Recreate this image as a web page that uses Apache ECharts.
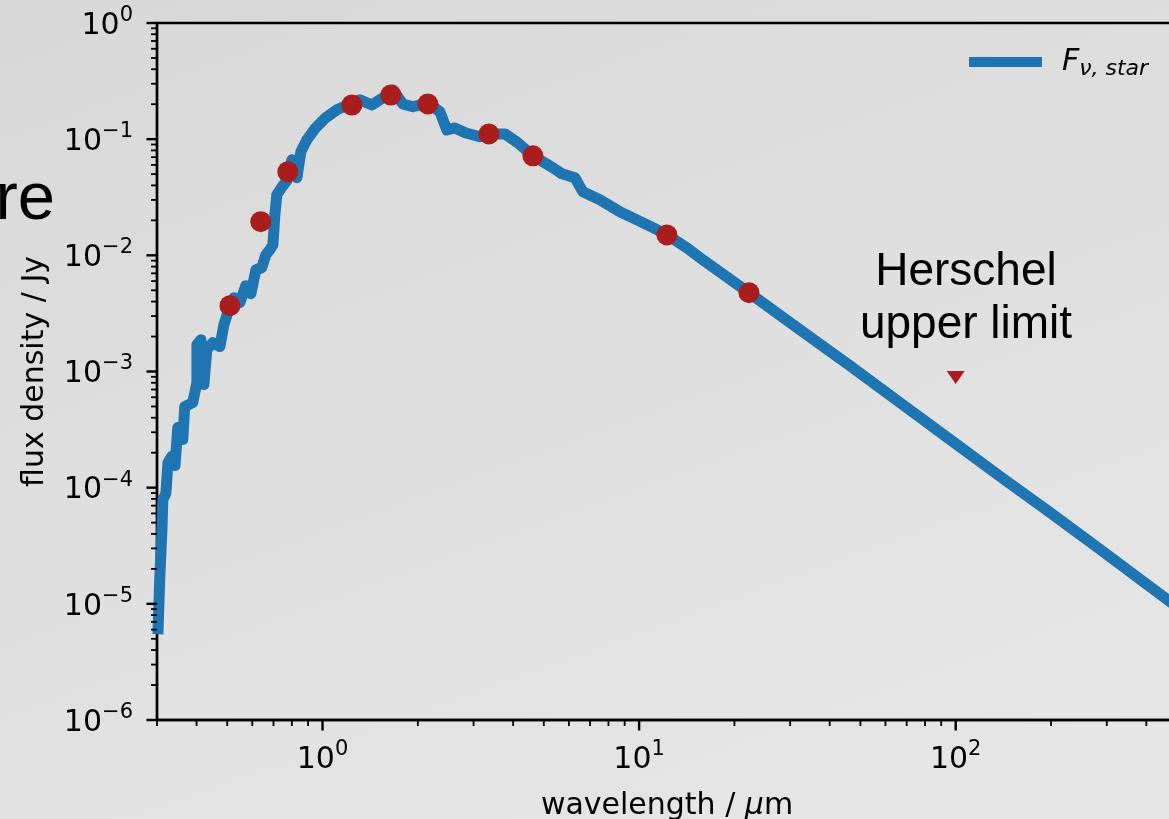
<!DOCTYPE html>
<html>
<head>
<meta charset="utf-8">
<title>SED</title>
<script src="https://cdn.jsdelivr.net/npm/echarts@6/dist/echarts.min.js"></script>
<style>
  html, body { margin: 0; padding: 0; }
  body { background: linear-gradient(160deg, #d8d8d8 0%, #e7e7e7 100%); }
  #chartbox { width: 1169px; height: 819px; }
</style>
</head>
<body>
<div id="chartbox"></div>
<script>
// model spectrum of the star: wavelength (micron) / flux density (Jy)
var modelWave = [0.302, 0.306, 0.311, 0.313, 0.320, 0.325, 0.334, 0.342, 0.349, 0.362,
  0.367, 0.389, 0.401, 0.401, 0.413, 0.422, 0.431, 0.450, 0.474, 0.488,
  0.510, 0.525, 0.548, 0.572, 0.594, 0.616, 0.643, 0.662, 0.682, 0.697,
  0.707, 0.717, 0.749, 0.771, 0.800, 0.830, 0.854, 0.892, 0.946, 1.024,
  1.110, 1.220, 1.312, 1.432, 1.551, 1.668, 1.794, 1.929, 2.151, 2.348,
  2.470, 2.618, 2.837, 3.141, 3.378, 3.767, 4.141, 4.618, 5.342, 5.704,
  6.270, 6.644, 7.517, 8.695, 9.842, 11.06, 12.24, 14.16, 15.56, 22.23,
  32.22, 46.35, 66.68, 95.94, 138.0, 198.6, 285.7, 500];
var modelFlux = [5.47e-6, 1.62e-5, 4.37e-5, 7.91e-5, 8.91e-5, 1.65e-4, 1.86e-4, 1.55e-4, 3.29e-4, 2.60e-4,
  4.99e-4, 5.40e-4, 8.03e-4, 1.70e-3, 1.88e-3, 7.72e-4, 1.54e-3, 1.77e-3, 1.64e-3, 2.53e-3,
  3.69e-3, 4.32e-3, 3.91e-3, 5.48e-3, 4.67e-3, 7.52e-3, 7.82e-3, 0.0101, 0.0112, 0.0123,
  0.0223, 0.0332, 0.0397, 0.0438, 0.0664, 0.0465, 0.0778, 0.0986, 0.123, 0.153,
  0.179, 0.201, 0.218, 0.197, 0.227, 0.265, 0.201, 0.190, 0.205, 0.172,
  0.120, 0.125, 0.113, 0.105, 0.111, 0.111, 0.0929, 0.0719, 0.0567, 0.0503,
  0.0465, 0.0352, 0.0301, 0.0237, 0.0202, 0.0173, 0.0150, 0.0116, 0.00954, 4.77e-3,
  2.29e-3, 1.12e-3, 5.40e-4, 2.60e-4, 1.25e-4, 6.12e-5, 2.94e-5, 9.43e-6];

// photometry points
var photWave = [0.510, 0.638, 0.777, 1.238, 1.644, 2.151, 3.354, 4.618, 12.24, 22.23];
var photFlux = [3.69e-3, 0.0195, 0.0524, 0.197, 0.240, 0.201, 0.111, 0.0719, 0.0150, 4.77e-3];

// Herschel upper limit
var limitWave = [100];
var limitFlux = [8.9e-4];

// axis range and ticks
var xMin = 0.3, xMax = 500;
var yMin = 1e-6, yMax = 1;
var xMajorTicks = [1, 10, 100];
var xMinorTicks = [0.3, 0.4, 0.5, 0.6, 0.7, 0.8, 0.9,
  2, 3, 4, 5, 6, 7, 8, 9,
  20, 30, 40, 50, 60, 70, 80, 90,
  200, 300, 400, 500];
var yMajorTicks = [1e-6, 1e-5, 1e-4, 1e-3, 1e-2, 1e-1, 1];
var yMinorSteps = [2, 3, 4, 5, 6, 7, 8, 9];

var yMinorTicks = [];
yMajorTicks.slice(0, -1).forEach(function (d) {
  yMinorSteps.forEach(function (m) { yMinorTicks.push(d * m); });
});

var font = '"DejaVu Sans", sans-serif';
var blue = '#1f75b2';
var red = '#a91d1d';

function pairs(xs, ys) {
  return xs.map(function (x, i) { return [x, ys[i]]; });
}

// 10^n labels like matplotlib
function powLabel(value) {
  var lg = Math.log10(value);
  var e = Math.round(lg);
  if (Math.abs(lg - e) > 1e-6) return '';
  return '{b|10}{s|' + (e < 0 ? '\u2212' : '') + Math.abs(e) + '}';
}

var labelRich = {
  b: { fontSize: 30, fontFamily: font, color: '#000', lineHeight: 36, verticalAlign: 'bottom' },
  s: { fontSize: 21, fontFamily: font, color: '#000', lineHeight: 21, verticalAlign: 'top' }
};

function xTick(params, api) {
  var p = api.coord([api.value(0), api.value(1)]);
  var major = api.value(2) === 1;
  var len = major ? 10.5 : 6;
  return {
    type: 'line',
    shape: { x1: p[0], y1: p[1], x2: p[0], y2: p[1] + len },
    style: { stroke: '#000', lineWidth: major ? 2.4 : 1.8 }
  };
}

function yTick(params, api) {
  var p = api.coord([api.value(0), api.value(1)]);
  var major = api.value(2) === 1;
  var len = major ? 10.5 : 6;
  return {
    type: 'line',
    shape: { x1: p[0], y1: p[1], x2: p[0] - len, y2: p[1] },
    style: { stroke: '#000', lineWidth: major ? 2.4 : 1.8 }
  };
}

var xTickData = xMajorTicks.map(function (v) { return [v, yMin, 1]; })
  .concat(xMinorTicks.map(function (v) { return [v, yMin, 0]; }));
var yTickData = yMajorTicks.map(function (v) { return [xMin, v, 1]; })
  .concat(yMinorTicks.map(function (v) { return [xMin, v, 0]; }));

var myChart = echarts.init(document.getElementById('chartbox'));

var option = {
  backgroundColor: 'transparent',
  animation: false,
  grid: {
    left: 157,
    top: 23,
    width: 1020,
    height: 697,
    outerBoundsMode: 'none',
    containLabel: false,
    show: true,
    borderColor: '#000',
    borderWidth: 2.4,
    backgroundColor: 'transparent'
  },
  legend: {
    data: [{ name: 'Fstar', icon: 'rect' }],
    left: 969,
    top: 47,
    padding: 0,
    itemWidth: 73,
    itemHeight: 10,
    itemStyle: { color: blue },
    formatter: function () { return '{f|F}{s|\u03bd, star}'; },
    textStyle: {
      rich: {
        f: { fontSize: 30, fontFamily: font, fontStyle: 'italic', color: '#000', lineHeight: 36, padding: [0, 0, 0, 15] },
        s: { fontSize: 22, fontFamily: font, fontStyle: 'italic', color: '#000', lineHeight: 22, verticalAlign: 'bottom' }
      }
    }
  },
  xAxis: {
    type: 'log',
    logBase: 10,
    min: xMin,
    max: xMax,
    name: 'wavelength / {i|\u03bc}m',
    nameLocation: 'middle',
    nameGap: 71,
    nameTextStyle: {
      fontSize: 30, fontFamily: font, color: '#000',
      rich: { i: { fontSize: 30, fontFamily: font, fontStyle: 'italic', color: '#000' } }
    },
    axisLine: { show: true, lineStyle: { color: '#000', width: 2.4 } },
    axisTick: { show: false },
    minorTick: { show: false },
    splitLine: { show: false },
    axisLabel: { margin: 19, formatter: powLabel, rich: labelRich }
  },
  yAxis: {
    type: 'log',
    logBase: 10,
    min: yMin,
    max: yMax,
    splitNumber: 6,
    name: 'flux density / Jy',
    nameLocation: 'middle',
    nameGap: 107,
    nameTextStyle: { fontSize: 30, fontFamily: font, color: '#000' },
    axisLine: { show: true, lineStyle: { color: '#000', width: 2.4 } },
    axisTick: { show: false },
    minorTick: { show: false },
    splitLine: { show: false },
    axisLabel: { margin: 24, formatter: powLabel, rich: labelRich }
  },
  series: [
    {
      name: 'Fstar',
      type: 'line',
      data: pairs(modelWave, modelFlux),
      symbol: 'none',
      color: blue,
      lineStyle: { color: blue, width: 11, join: 'round' },
      z: 2
    },
    {
      name: 'photometry',
      type: 'scatter',
      data: pairs(photWave, photFlux),
      symbol: 'circle',
      symbolSize: 21,
      itemStyle: { color: red, opacity: 1 },
      z: 3
    },
    {
      name: 'Herschel',
      type: 'scatter',
      data: pairs(limitWave, limitFlux),
      symbol: 'triangle',
      symbolRotate: 180,
      symbolSize: [18, 13],
      itemStyle: { color: red, opacity: 1 },
      z: 3
    },
    {
      name: 'xticks',
      type: 'custom',
      renderItem: xTick,
      data: xTickData,
      encode: { x: 0, y: 1 },
      silent: true,
      clip: false,
      z: 4
    },
    {
      name: 'yticks',
      type: 'custom',
      renderItem: yTick,
      data: yTickData,
      encode: { x: 0, y: 1 },
      silent: true,
      clip: false,
      z: 4
    }
  ],
  graphic: [
    {
      type: 'text',
      x: 966,
      y: 246,
      style: {
        text: 'Herschel\nupper limit',
        font: '46px "Liberation Sans", Arial, sans-serif',
        fill: '#000',
        align: 'center',
        verticalAlign: 'top',
        lineHeight: 53
      }
    },
    {
      type: 'text',
      x: 55,
      y: 201,
      style: {
        text: 're',
        font: '67px "Liberation Sans", Arial, sans-serif',
        fill: '#000',
        align: 'right',
        verticalAlign: 'middle'
      }
    }
  ]
};

myChart.setOption(option);
</script>
</body>
</html>
